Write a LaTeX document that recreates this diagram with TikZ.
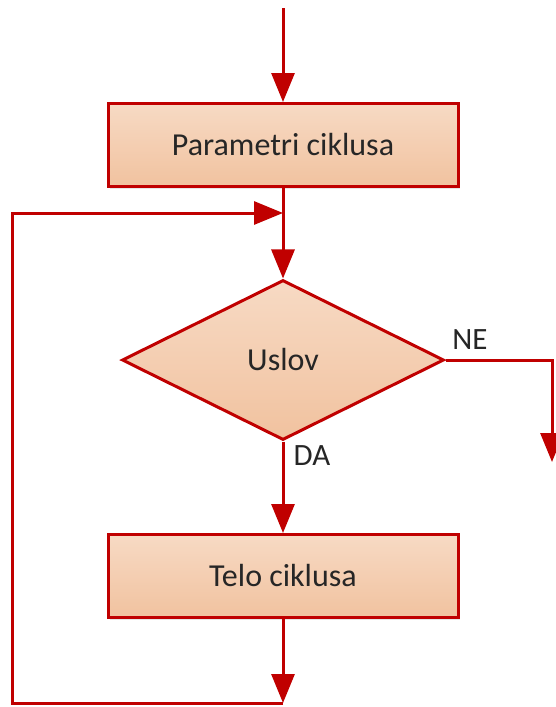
\documentclass[tikz,border=0pt]{standalone}
\usepackage{fontspec}
\setmainfont{Carlito}
\usetikzlibrary{arrows.meta,shapes.geometric,shadows}
\definecolor{flowred}{HTML}{C00000}
\definecolor{peachtop}{HTML}{F7DAC4}
\definecolor{peachbot}{HTML}{F1C29F}
\tikzset{
    process/.style = {rectangle, minimum width=350pt, minimum height=83pt, text centered, draw=flowred, line width=3pt, top color=peachtop, bottom color=peachbot, font=\fontsize{32}{38}\selectfont, text=black!85, drop shadow={opacity=0.2, shadow xshift=2pt, shadow yshift=-2pt}},
    decision/.style = {diamond, aspect=2, inner sep=0pt, minimum width=322pt, minimum height=160pt, text centered, draw=flowred, line width=3pt, top color=peachtop, bottom color=peachbot, font=\fontsize{32}{38}\selectfont, text=black!85},
    answer/.style = {font=\fontsize{31}{36}\selectfont, text=black!85},
    arrow/.style = {line width=3pt, draw=flowred, -{Triangle[length=29pt,width=23pt]}}
}
\begin{document}
\begin{tikzpicture}[x=1pt, y=-1pt]
\useasboundingbox (0,0) rectangle (556,707);
\node (params) [process] at (283,145) {Parametri ciklusa};
\node (cond) [decision] at (283,360) {Uslov};
\node (body) [process] at (283,576) {Telo ciklusa};
\node (ne) [answer] at (470,340) {NE};
\node (da) [answer] at (312,456) {DA};

\coordinate (start) at (283,8);
\coordinate (join) at (283,213);
\coordinate (loopbottom) at (283,703);
\coordinate (loopleft) at (12,703);
\coordinate (looptop) at (12,213);
\coordinate (neturn) at (552,360);
\coordinate (neend) at (552,462);

\draw [arrow] (start) -- (params);
\draw [arrow] (params) -- (cond);
\draw [arrow] (cond) -- (body);
\draw [arrow] (body) -- (loopbottom);
\draw [arrow] (loopbottom) -- (loopleft) -- (looptop) -- (join);
\draw [arrow] (cond.east) -- (neturn) -- (neend);
\end{tikzpicture}
\end{document}
